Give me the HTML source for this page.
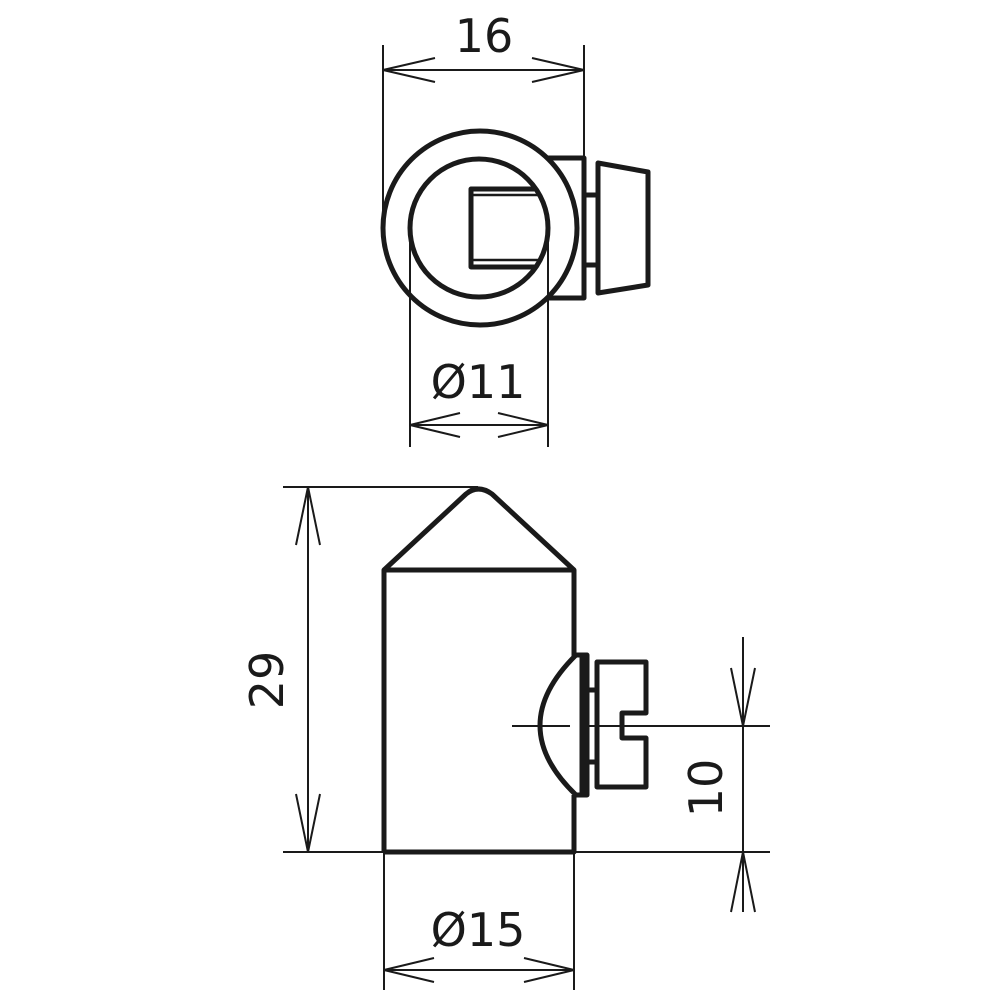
<!DOCTYPE html>
<html><head><style>html,body{margin:0;padding:0;background:#fff}</style></head>
<body>
<svg width="1000" height="1000" viewBox="0 0 1000 1000" xmlns="http://www.w3.org/2000/svg">
<g fill="none" stroke="#1a1a1a" stroke-linejoin="round">
<g stroke-width="5">
<circle cx="480" cy="228" r="97"/>
<circle cx="479" cy="228" r="69"/>
<path d="M535 189 H471 V267 H535"/>
<path d="M548 158 H584 V298 H548"/>
<path d="M584 195 H597 M584 265 H597"/>
<path d="M598 163 L648 172 V285 L598 293 Z"/>
</g>
<path d="M473 195 H538 M473 260 H538" stroke-width="2.5"/>
<g stroke-width="2">
<path d="M383 45 V228 M584 45 V160"/>
<path d="M383 70 H584"/>
<path d="M435 58 L383 70 L435 82 M532 58 L584 70 L532 82"/>
<path d="M410 228 V447 M548 228 V447"/>
<path d="M410 425 H548"/>
<path d="M460 413 L410 425 L460 437 M498 413 L548 425 L498 437"/>
</g>
<g stroke-width="5">
<path d="M384 852 V570 L466 494 Q478 484 492 494 L574 570 V657"/>
<path d="M574 795 V852 H384"/>
<path d="M384 570 H574"/>
<path d="M582 655 H576 Q504 726 576 795 H582 Z" />
<path d="M582 655 H587 V795 H582"/>
<path d="M587 690 H597 M587 762 H597"/>
<path d="M597 662 H646 V713 H622 V738 H646 V787 H597 Z"/>
</g>
<g stroke-width="2">
<path d="M283 487 H478"/>
<path d="M283 852 H770"/>
<path d="M308 487 V852"/>
<path d="M296 545 L308 487 L320 545 M296 794 L308 852 L320 794"/>
<path d="M512 726 H570 M580 726 H770" />
<path d="M743 637 V912"/>
<path d="M731 668 L743 726 L755 668 M731 912 L743 852 L755 912"/>
<path d="M384 852 V990 M574 852 V990"/>
<path d="M384 970 H574"/>
<path d="M434 958 L384 970 L434 982 M524 958 L574 970 L524 982"/>
</g>
</g>
<g font-family="'DejaVu Sans','Liberation Sans',sans-serif" font-size="46" fill="#1a1a1a" text-anchor="middle">
<text x="484" y="52">16</text>
<text x="478" y="398">Ø11</text>
<text x="478" y="946">Ø15</text>
<text transform="translate(283,680) rotate(-90)">29</text>
<text transform="translate(722,788) rotate(-90)">10</text>
</g>
</svg>
</body></html>
